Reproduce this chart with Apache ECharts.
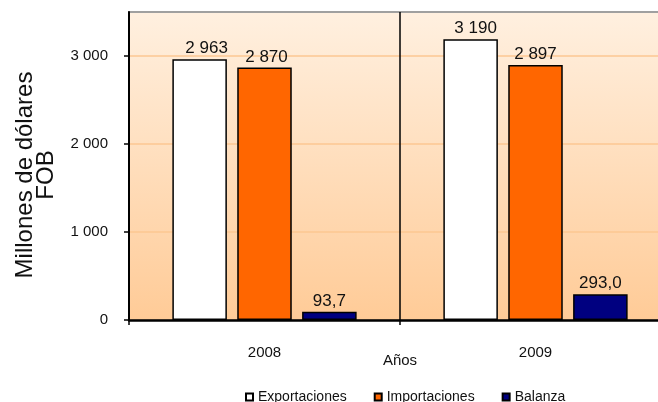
<!DOCTYPE html>
<html>
<head>
<meta charset="utf-8">
<script src="https://cdn.jsdelivr.net/npm/echarts@6/dist/echarts.min.js"></script>
<style>html,body{margin:0;padding:0;background:#fff}#c{width:658px;height:402px}</style>
</head>
<body>
<div id="c"></div>
<script>
const categories = ['2008', '2009'];
const seriesNames = ['Exportaciones', 'Importaciones', 'Balanza'];
const exportaciones = [2963, 3190];
const importaciones = [2870, 2897];
const balanza = [93.7, 293.0];
const yTicks = [0, 1000, 2000, 3000];

const FONT = 'Liberation Sans, Arial, sans-serif';
const fmtThousands = v => {
  const s = String(Math.round(v));
  return s.replace(/\B(?=(\d{3})+(?!\d))/g, ' ');
};
const fmtDecimal = v => v.toFixed(1).replace('.', ',');

const colors = ['#ffffff', '#ff6600', '#000080'];
const values = [exportaciones, importaciones, balanza];
const labelFmt = [fmtThousands, fmtThousands, fmtDecimal];
const labelOffsets = [[[7, 0], [5, 0]], [[2, 0], [0, 0]], [[0, 0], [0, 0]]];

const series = seriesNames.map((name, i) => ({
  name: name,
  type: 'bar',
  barGap: '19%',
  barCategoryGap: '32%',
  itemStyle: { color: colors[i], borderColor: '#000', borderWidth: 1.5 },
  label: {
    show: true, position: 'top', distance: 2,
    fontFamily: FONT, fontSize: 17, color: '#111',
    formatter: p => labelFmt[i](p.value)
  },
  data: values[i].map((v, j) => ({ value: v, label: { offset: labelOffsets[i][j] } }))
}));

const chart = echarts.init(document.getElementById('c'));
chart.setOption({
  animation: false,
  backgroundColor: '#fff',
  grid: {
    left: 129, width: 542, top: 12, bottom: 82,
    outerBoundsMode: 'none',
    containLabel: false,
    show: true,
    borderColor: '#a0a0a0', borderWidth: 2,
    backgroundColor: new echarts.graphic.LinearGradient(0, 0, 0, 1, [
      { offset: 0, color: '#fff0e0' },
      { offset: 1, color: '#ffcb97' }
    ])
  },
  legend: {
    data: seriesNames,
    left: 245, top: 390, padding: 0,
    itemWidth: 7, itemHeight: 7, itemGap: 27,
    icon: 'rect',
    textStyle: { fontFamily: FONT, fontSize: 14, color: '#111' }
  },
  xAxis: {
    type: 'category',
    data: categories,
    name: 'Años', nameLocation: 'middle', nameGap: 33,
    nameMoveOverlap: false,
    nameTextStyle: { fontFamily: FONT, fontSize: 15, color: '#111' },
    axisLine: { lineStyle: { color: '#000', width: 2.5 } },
    axisTick: { show: true, length: 5, lineStyle: { color: '#000', width: 1.5 } },
    axisLabel: { margin: 25, fontFamily: FONT, fontSize: 15, color: '#111' },
    splitLine: { show: true, lineStyle: { color: '#000', width: 1.5 } }
  },
  yAxis: {
    type: 'value',
    min: 0, max: 3500, interval: 1000,
    name: 'Millones de dólares\nFOB', nameLocation: 'middle', nameGap: 72,
    nameMoveOverlap: false,
    nameTextStyle: { fontFamily: FONT, fontSize: 24, color: '#111', lineHeight: 21, align: 'center',
      padding: [0, 18, 0, 0] },
    axisLine: { show: true, lineStyle: { color: '#000', width: 2 } },
    axisTick: { show: true, length: 5, customValues: yTicks, lineStyle: { color: '#000', width: 1.5 } },
    axisLabel: { margin: 21, customValues: yTicks, fontFamily: FONT, fontSize: 15, color: '#111',
      formatter: v => fmtThousands(v) },
    splitLine: { show: true, lineStyle: { color: '#fcc792', width: 1.5 } }
  },
  series: series
});
</script>
</body>
</html>
